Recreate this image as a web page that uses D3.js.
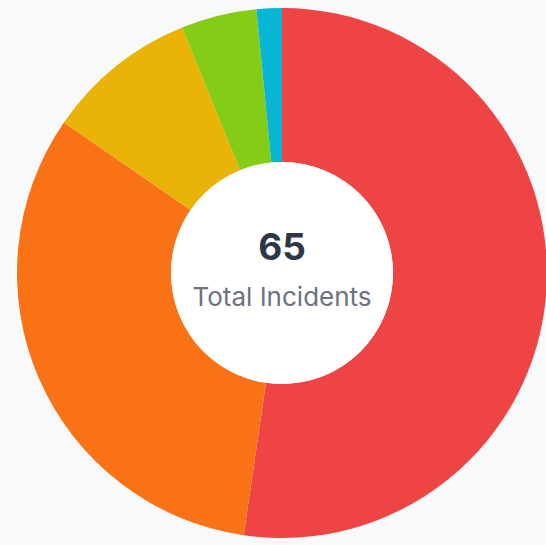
<!DOCTYPE html>
<html>
<head>
<meta charset="utf-8">
<script src="https://cdn.jsdelivr.net/npm/d3@7"></script>
<style>
html,body{margin:0;padding:0;background:#f8f9fb;overflow:hidden;}
svg{display:block;}
</style>
</head>
<body>
<svg id="chart" width="546" height="545"></svg>
<script>
const categories = ["Critical", "High", "Medium", "Low", "Info"];
const values = [34, 21, 6, 3, 1];
const colors = ["#ef4444", "#f97316", "#eab308", "#84cc16", "#06b6d4"];
const totalLabel = "Total Incidents";

const W = 546, H = 545;
const cx = 282, cy = 273, outerR = 265, innerR = 111;

const svg = d3.select("#chart");
const g = svg.append("g").attr("transform", `translate(${cx},${cy})`);

const color = d3.scaleOrdinal().domain(categories).range(colors);
const pie = d3.pie().value(d => d.value).sort(null);
const arc = d3.arc().innerRadius(innerR).outerRadius(outerR);

const data = categories.map((c, i) => ({ name: c, value: values[i] }));

g.selectAll("path.slice")
  .data(pie(data))
  .join("path")
  .attr("class", "slice")
  .attr("d", arc)
  .attr("fill", d => color(d.data.name));

g.append("circle").attr("r", innerR).attr("fill", "#ffffff");

const total = d3.sum(values);
g.append("text")
  .attr("x", 0).attr("y", -13)
  .attr("text-anchor", "middle")
  .attr("font-family", "Inter, 'Liberation Sans', sans-serif")
  .attr("font-weight", 700)
  .attr("font-size", 37)
  .attr("fill", "#2d3748")
  .text(total);

g.append("text")
  .attr("x", 0).attr("y", 33)
  .attr("text-anchor", "middle")
  .attr("font-family", "Inter, 'Liberation Sans', sans-serif")
  .attr("font-size", 26)
  .attr("fill", "#6b7280")
  .text(totalLabel);
</script>
</body>
</html>
